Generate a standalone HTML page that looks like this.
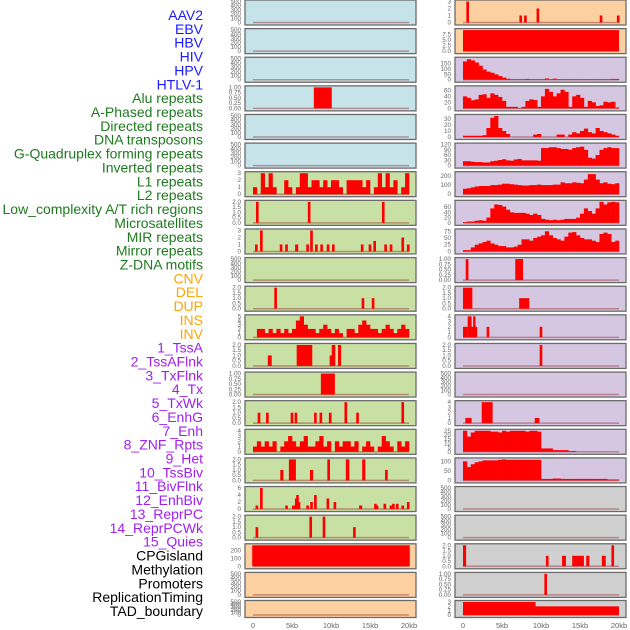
<!DOCTYPE html>
<html><head><meta charset="utf-8"><style>
html,body{margin:0;padding:0;background:#fff;width:630px;height:630px;overflow:hidden}
svg{display:block;font-family:"Liberation Sans",sans-serif}
</style></head><body>
<svg id="chart" width="630" height="630" viewBox="0 0 630 630" xmlns="http://www.w3.org/2000/svg"></svg>
<script>
// ---------- labels ----------
const rowLabels = ["AAV2","EBV","HBV","HIV","HPV","HTLV-1","Alu repeats","A-Phased repeats","Directed repeats","DNA transposons","G-Quadruplex forming repeats","Inverted repeats","L1 repeats","L2 repeats","Low_complexity A/T rich regions","Microsatellites","MIR repeats","Mirror repeats","Z-DNA motifs","CNV","DEL","DUP","INS","INV","1_TssA","2_TssAFlnk","3_TxFlnk","4_Tx","5_TxWk","6_EnhG","7_Enh","8_ZNF_Rpts","9_Het","10_TssBiv","11_BivFlnk","12_EnhBiv","13_ReprPC","14_ReprPCWk","15_Quies","CPGisland","Methylation","Promoters","ReplicationTiming","TAD_boundary"];
const labelGroups = ["v","v","v","v","v","v","r","r","r","r","r","r","r","r","r","r","r","r","r","s","s","s","s","s","c","c","c","c","c","c","c","c","c","c","c","c","c","c","c","k","k","k","k","k"];
const xTickKb = [0,5,10,15,20];
const xTickText = ["0","5kb","10kb","15kb","20kb"];

// ---------- left column data (kb start, kb end, value) ----------
const L4 = [[7.8,10.1,1]];
const L7 = [1,0,3,1,3,1,0,0,2,1,0,1,3,3,1,2,2,1,2,1,2,2,1,0,2,2,2,2,1,2,0,1,3,1,3,1,2,0,1,3];
const L8 = [[0.55,0.55,2],[7.2,7.2,2],[16.7,16.7,2]];
const L9 = [[0.43,0.43,1],[1.07,1.07,3],[3.6,3.6,1],[4.3,4.3,1],[5.4,5.8,1],[7.0,7.0,1],[7.5,7.5,3],[8.0,8.25,1],[8.8,8.8,1],[9.5,9.75,1],[10.3,10.3,1],[14.0,14.0,1],[15.0,15.0,1],[15.6,15.6,1.5],[17.0,17.0,1],[17.7,17.7,1],[19.2,19.2,2],[19.9,19.9,1]];
const L11 = [[2.9,2.9,2],[14.1,14.1,1],[15.4,15.4,1]];
const L12 = [0,2,2,1,2,1,2,1,2,1,2,4,5,3,2,2,1,2,3,2,1,2,1,0,2,2,1,3,4,3,2,2,1,2,3,2,1,2,3,2];
const L13 = [[1.9,2.4,1],[5.6,7.6,2],[9.9,10.1,1],[10.1,10.55,2],[10.9,11.3,2]];
const L14 = [[8.7,10.5,1]];
const L15 = [[0.77,0.77,1],[1.84,1.84,1],[5.0,5.0,1],[5.5,5.5,1],[8.0,8.0,1],[8.7,8.7,1],[9.9,9.9,1],[11.9,11.9,2],[13.4,13.4,1],[19.2,19.2,2]];
const L16 = [1,2,1,2,1,2,0,1,2,3,2,1,2,3,1,1,2,3,1,2,0,2,1,2,2,1,2,0,1,2,1,0,1,3,2,1,0,2,1,2];
const L17 = [[3.5,3.9,1],[4.6,5.5,2],[7.3,7.7,1],[9.7,9.7,2],[11.9,12.35,2],[14.0,14.4,2],[17.1,17.1,1]];
const L18 = [[0.5,0.5,1],[1.07,1.07,6],[4.3,4.3,1],[5.0,5.4,1],[5.55,5.55,3],[5.7,5.7,4],[5.9,5.9,2],[7.0,7.0,1],[7.5,7.5,2],[8.0,8.0,4],[9.6,9.6,3],[10.5,10.5,2],[13.6,14.0,1],[15.7,15.7,1.5],[15.9,15.9,1],[16.9,16.9,1.5],[17.7,17.7,1],[18.0,18.0,1.5],[18.5,18.5,1.5],[19.2,19.2,1],[19.9,19.9,2]];
const L19 = [[0.5,0.5,1],[7.4,7.4,2],[9.1,9.1,2],[13.0,13.0,1]];
const L20 = [[-0.1,20.1,270]];

// ---------- right column data ----------
const R1 = [[0.6,0.6,3],[7.4,7.4,1],[8.0,8.0,1],[9.6,9.6,2],[17.7,17.7,1],[19.9,19.9,1]];
const R2 = [[0,20,9.5]];
const R3 = [170,190,180,160,130,95,75,65,50,35,20,10,5,5,5,5,8,5,5,5,5,12,5,10,5,5,5,5,5,5,5,5,5,5,5,5,5,5,8,8];
const R4 = [40,35,27,30,45,47,35,50,45,38,25,5,5,5,1,5,25,30,28,5,40,65,55,40,50,62,55,5,40,45,35,5,25,20,8,10,22,20,22,3];
const R5 = [2,2,2,2,2,3,15,32,35,15,10,5,0,0,0,0,0,0,4,5,0,0,0,0,4,4,0,4,8,6,10,14,8,6,15,10,8,6,4,2];
const R6 = [25,25,22,20,20,18,18,25,28,32,36,30,28,35,38,30,30,30,30,28,100,100,105,105,100,95,95,90,100,105,108,90,45,40,60,90,100,105,100,100];
const R7 = [60,65,75,85,90,90,90,100,100,105,115,115,110,105,100,95,95,100,100,105,100,100,100,105,105,130,120,120,130,125,120,160,220,220,160,120,130,115,110,120];
const R8 = [3,5,5,8,10,8,20,55,70,68,62,50,40,38,38,38,35,30,35,30,15,12,10,12,10,12,15,15,15,20,35,55,45,35,55,80,70,78,80,78];
const R9 = [5,5,15,25,30,35,40,30,25,20,20,15,15,18,25,45,45,40,50,55,60,75,60,50,45,40,55,70,72,60,50,45,45,40,35,65,70,65,35,40];
const R10 = [[0.35,0.7,1],[6.7,7.7,1]];
const R11 = [[0,1.2,2],[7.2,8.5,1]];
const R12 = [[0,0.6,2],[0.6,1.1,4],[1.1,1.3,2],[1.3,1.6,4],[1.6,1.7,2],[3.2,3.2,2],[10.0,10.0,2]];
const R13 = [[10.0,10.0,2]];
const R15 = [[0.3,1.1,1],[2.4,3.8,4],[9.2,9.8,1]];
const R16 = [25,18,23,25,25,25,25,24,24,23,25,24,25,25,25,25,24,25,25,24,4,4,4,2,2,2,2,1,1,0,0,0,0,0,0,0,0,0,0,0];
const R17 = [100,70,85,95,100,105,105,105,105,108,110,108,108,108,108,108,108,108,108,108,8,8,8,10,10,8,8,8,8,8,8,8,8,8,8,8,8,5,5,5];
const R20 = [[0,0.4,2],[10.8,10.8,1],[12.7,13.2,1],[14.0,15.5,1],[15.8,16.2,1],[17.8,18.3,1],[19.2,19.2,2]];
const R21 = [[10.6,10.6,1]];
const R22 = [[0,9.3,3],[9.3,20,2]];

// ---------- axis tick sets ----------
const T500 = [0,100,200,300,400,500];
const T1 = [0,0.25,0.5,0.75,1];
const T2 = [0,0.5,1,1.5,2];
const T3 = [0,1,2,3];
const T4 = [0,1,2,3,4];

const COL = {b:"#c6e3ea",g:"#c8e0a4",o:"#fdd0a2",p:"#d5c7e2",y:"#d0d0d0"};
const leftPanels = [
 [null,500,T500,0,"b"],[null,500,T500,0,"b"],[null,500,T500,0,"b"],[L4,1,T1,2,"b"],[null,500,T500,0,"b"],[null,500,T500,0,"b"],
 [L7,3,T3,0,"g"],[L8,2,T2,1,"g"],[L9,3,T3,0,"g"],[null,500,T500,0,"g"],[L11,2,T2,1,"g"],[L12,5,[0,1,2,3,4,5],0,"g"],
 [L13,2,T2,1,"g"],[L14,1,T1,2,"g"],[L15,2,T2,1,"g"],[L16,4,T4,0,"g"],[L17,2,T2,1,"g"],[L18,6,[0,2,4,6],0,"g"],[L19,2,T2,1,"g"],
 [L20,270,[0,100,200],0,"o"],[null,500,T500,0,"o"],[null,500,T500,0,"o"]];
const rightPanels = [
 [R1,3,T3,0,"o"],[R2,9.5,[0,2.5,5,7.5],1,"o"],[R3,195,[0,50,100,150],0,"p"],[R4,70,[0,20,40,60],0,"p"],[R5,35,[0,10,20,30],0,"p"],
 [R6,120,[0,30,60,90,120],0,"p"],[R7,230,[0,100,200],0,"p"],[R8,80,[0,20,40,60],0,"p"],[R9,78,[0,25,50,75],0,"p"],
 [R10,1,T1,2,"p"],[R11,2,T2,1,"p"],[R12,4,T4,0,"p"],[R13,2,T2,1,"p"],[null,500,T500,0,"p"],[R15,4,T4,0,"p"],
 [R16,25,[0,5,10,15,20,25],0,"p"],[R17,110,[0,50,100],0,"p"],[null,500,T500,0,"y"],[null,500,T500,0,"y"],
 [R20,2,T2,1,"y"],[R21,1,T1,2,"y"],[R22,3,T3,0,"y"]];

const svg = document.getElementById('chart');
const NS = "http://www.w3.org/2000/svg";
function mk(tag, attrs, parent){const e=document.createElementNS(NS,tag);for(const k in attrs)e.setAttribute(k,attrs[k]);(parent||svg).appendChild(e);return e;}

const gColors = {v:"#1a1aff",r:"#1f7a1f",s:"#ffa500",c:"#a020f0",k:"#000000"};
rowLabels.forEach((t,i)=>{
  const el = mk('text',{x:203,y:20+i*13.86,'text-anchor':'end','font-size':'14',fill:gColors[labelGroups[i]]});
  el.textContent = t;
  
  
});

function rowTop(i){return i<21 ? i*28.62 : 600.5;}
function rowH(i){return i<21 ? 25 : 17;}

function drawColumn(panels, px, side){
  const pw = 171;
  const xk = kb => px + 8 + kb*7.8;
  panels.forEach((p,i)=>{
    const [data,ymax,ticks,dec,bg] = p;
    const top=rowTop(i), h=rowH(i);
    const g = mk('g',{});
    
    
    mk('rect',{x:px,y:top,width:pw,height:h,fill:COL[bg]},g);
    const base = top+h-2.5, ytop = top+1.5;
    const ys = v => base - (v/ymax)*(base-ytop);
    mk('line',{x1:xk(0),x2:xk(20),y1:base,y2:base,stroke:"rgba(139,20,20,0.4)","stroke-width":1.5},g);
    if(data){
      if(typeof data[0]==='number'){
        data.forEach((v,j)=>{
          if(v<=0) return;
          const r = mk('rect',{x:xk(j*0.5),y:ys(v),width:7.8*0.5+0.3,height:base-ys(v),fill:"#ff0000"},g);
          
          
        });
      } else {
        data.forEach(d=>{
          let s=d[0], e=d[1];
          if(e-s<0.3){const c=(s+e)/2; s=c-0.17; e=c+0.17;}
          const v=Math.min(d[2],ymax);
          const r = mk('rect',{x:xk(s),y:ys(v),width:xk(e)-xk(s),height:base-ys(v),fill:"#ff0000"},g);
          
          
        });
      }
    }
    mk('rect',{x:px,y:top,width:pw,height:h,fill:"none",stroke:"#6b6b6b","stroke-width":1.3},g);
    ticks.forEach(t=>{
      const tx = mk('text',{x:px-4,y:ys(t)+2,'text-anchor':'end','font-size':'6.3',fill:"#666"},g);
      tx.textContent = t.toFixed(dec);
      
      
    });
  });
  xTickKb.forEach((k,j)=>{
    const tx = mk('text',{x:xk(k),y:628,'text-anchor':'middle','font-size':'7.5',fill:"#666"});
    tx.textContent = xTickText[j];
    
    
  });
}
drawColumn(leftPanels, 245, 'left');
drawColumn(rightPanels, 455, 'right');
</script>
</body></html>
